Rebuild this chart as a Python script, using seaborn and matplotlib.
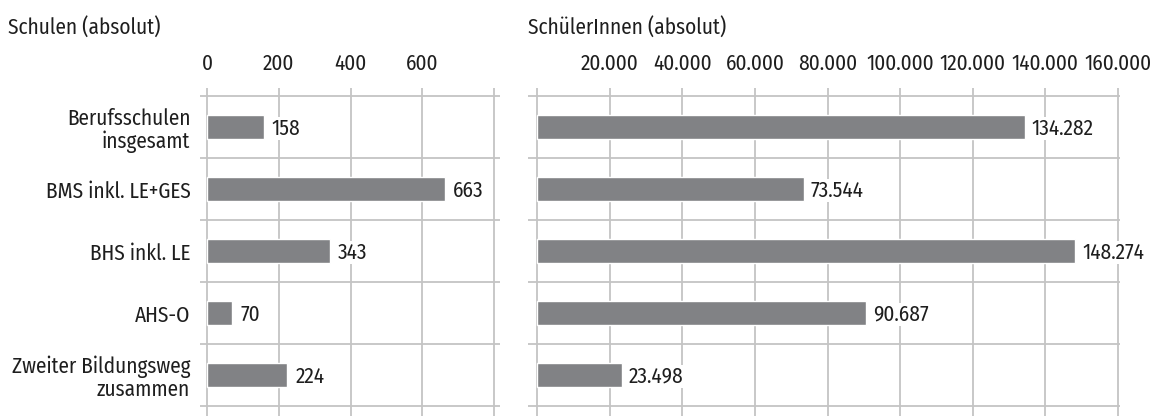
import matplotlib
matplotlib.use("Agg")
import matplotlib.pyplot as plt
import seaborn as sns

categories = ["Berufsschulen\ninsgesamt", "BMS inkl. LE+GES", "BHS inkl. LE",
              "AHS-O", "Zweiter Bildungsweg\nzusammen"]
schulen = [158, 663, 343, 70, 224]
schueler = [134282, 73544, 148274, 90687, 23498]

left_ticks = [0, 200, 400, 600, 800]
left_ticklabels = ["0", "200", "400", "600", ""]
right_ticks = [0, 20000, 40000, 60000, 80000, 100000, 120000, 140000, 160000]
right_ticklabels = ["", "20.000", "40.000", "60.000", "80.000", "100.000",
                    "120.000", "140.000", "160.000"]

sns.set_style("white")
plt.rcParams["font.family"] = ["Fira Sans Condensed", "DejaVu Sans"]
plt.rcParams["text.color"] = "#1e1e1e"
plt.rcParams["xtick.color"] = "#1e1e1e"
plt.rcParams["ytick.color"] = "#1e1e1e"

BAR = "#818285"
GRID = "#c4c4c4"
FS = 15.3
W, H = 1165, 416

fig = plt.figure(figsize=(W / 100, H / 100), dpi=100)
top_px, bot_px = 88, 416
ax1 = fig.add_axes([200 / W, 1 - bot_px / H, 300 / W, (bot_px - top_px) / H])
ax2 = fig.add_axes([528 / W, 1 - bot_px / H, 592 / W, (bot_px - top_px) / H])


def fmt(v):
    return f"{v:,}".replace(",", ".")


def draw(ax, vals, ticks, ticklabels, xlim, show_y, offset):
    sns.barplot(x=vals, y=categories, ax=ax, color=BAR, saturation=1,
                width=0.38, orient="h")
    ax.set_xlim(*xlim)
    ax.set_ylim(4.5 + 0.16, -0.5 - 0.13)
    ax.set_xticks(ticks)
    ax.set_xticklabels(ticklabels)
    ax.xaxis.tick_top()
    ax.tick_params(axis="x", length=0, pad=10, labelsize=FS)
    ax.tick_params(axis="y", length=0, pad=7, labelsize=FS)
    if not show_y:
        ax.set_yticklabels([])
    else:
        for lbl in ax.get_yticklabels():
            lbl.set_linespacing(1.08)
    for s in ax.spines.values():
        s.set_visible(False)
    for t in ticks:
        ax.axvline(t, color=GRID, lw=1.3, zorder=0)
    for b in [-0.5, 0.5, 1.5, 2.5, 3.5, 4.5]:
        ax.axhline(b, color=GRID, lw=1.3, zorder=0)
    for i, v in enumerate(vals):
        ax.text(v + offset, i + 0.02, fmt(v), va="center", ha="left", fontsize=FS,
                bbox=dict(facecolor="white", edgecolor="none", pad=0.5))
    ax.set_xlabel("")
    ax.set_ylabel("")


draw(ax1, schulen, left_ticks, left_ticklabels, (-19.5, 816.5), True, 22)
draw(ax2, schueler, right_ticks, right_ticklabels, (-2480, 160550), False, 1800)

fig.text(8 / W, 1 - 28 / H, "Schulen (absolut)", ha="left", va="center", fontsize=FS)
fig.text(528 / W, 1 - 28 / H, "SchülerInnen (absolut)", ha="left", va="center", fontsize=FS)

fig.savefig("out.png", dpi=100)
